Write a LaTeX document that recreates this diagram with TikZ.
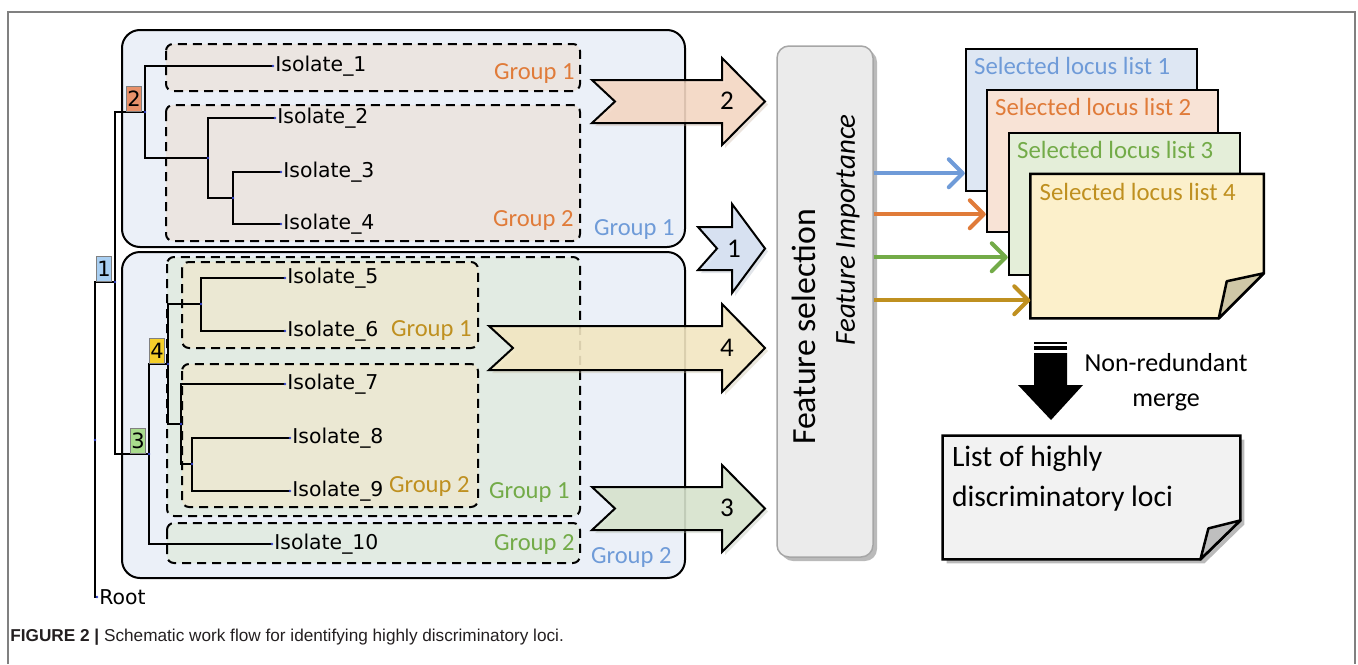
\documentclass[tikz,border=0pt]{standalone}
\usepackage{fontspec}
\setmainfont{Carlito}
\newfontfamily\isofont{DejaVu Sans}
\newfontfamily\capfont{Liberation Sans}
\usetikzlibrary{positioning,arrows.meta,shadows}
\definecolor{boxblue}{HTML}{EBF0F8}
\definecolor{fillO}{HTML}{EBE5E1}
\definecolor{fillG}{HTML}{E2EBE3}
\definecolor{fillY}{HTML}{EBE8D3}
\definecolor{txtO}{HTML}{E07B39}
\definecolor{txtB}{HTML}{6F9BD8}
\definecolor{txtG}{HTML}{73AB48}
\definecolor{txtY}{HTML}{BF9020}
\definecolor{arrO}{HTML}{F6D9C5}
\definecolor{arrB}{HTML}{D6E1F2}
\definecolor{arrY}{HTML}{F5E9C4}
\definecolor{arrG}{HTML}{D9E5CF}
\definecolor{lstB}{HTML}{DEE7F3}
\definecolor{lstO}{HTML}{F8E3D6}
\definecolor{lstG}{HTML}{E4EED9}
\definecolor{lstY}{HTML}{FCF0CB}
\definecolor{flapY}{HTML}{CFC7A6}
\definecolor{numO}{HTML}{E8916A}
\definecolor{numB}{HTML}{A9CFF2}
\definecolor{numG}{HTML}{A9DC8D}
\definecolor{numY}{HTML}{F5CF2A}
\definecolor{fsfill}{HTML}{EBEBEB}
\definecolor{fsgray}{HTML}{A6A6A6}
\definecolor{finfill}{HTML}{F2F2F2}
\definecolor{dotblue}{HTML}{3344CC}
\definecolor{framegray}{HTML}{808080}
\definecolor{capgray}{HTML}{231F20}

\begin{document}
\begin{tikzpicture}[x=0.5pt,y=-0.5pt,
  big box/.style={draw,line width=1pt,fill=boxblue,rounded corners=9pt},
  group box/.style={draw,line width=1pt,dash pattern=on 4.5pt off 3pt,rounded corners=3.5pt},
  group label/.style={anchor=east,inner sep=0pt,font=\fontsize{12.3}{14}\selectfont},
  tree/.style={line width=0.8pt},
  elbow/.style={to path={|- (\tikztotarget) \tikztonodes}},
  leaf node/.style={anchor=west,inner xsep=1pt,inner ysep=0pt,font=\isofont\fontsize{10.2}{12}\selectfont},
  num node/.style={draw=gray,line width=0.4pt,inner sep=0pt,minimum width=7.5pt,minimum height=12.5pt,font=\isofont\fontsize{10.5}{12}\selectfont},
  block arrow/.style={draw,line width=1pt,fill=#1,fill opacity=0.85,drop shadow={fill=#1!80!black,opacity=0.35,shadow xshift=1.5pt,shadow yshift=-1.5pt}},
  block num/.style={inner sep=0pt,font=\fontsize{13.5}{16}\selectfont},
  fs box/.style={draw=fsgray,line width=0.75pt,fill=fsfill,rounded corners=6pt,drop shadow={fill=black!45,opacity=0.6,shadow xshift=2pt,shadow yshift=-2pt}},
  list node/.style={draw,line width=1.25pt,minimum width=115.5pt,minimum height=71pt,inner sep=0pt},
  list text/.style={anchor=north west,inner xsep=4.5pt,inner ysep=4.5pt,font=\fontsize{12.4}{14}\selectfont},
  sel/.style={line width=2pt,-{Straight Barb[length=7pt,width=14pt,round]}}]

  \useasboundingbox (0,0) rectangle (1358,664);
  \draw[framegray,line width=0.75pt] (8,664) -- (8,12) -- (1355,12) -- (1355,664);

  \path[big box] (122,30) rectangle (685,247);
  \path[big box] (122,252) rectangle (685,578);
  \path[group box,fill=fillO] (166,44) rectangle (580,91);
  \path[group box,fill=fillO] (166,105) rectangle (580,241);
  \path[group box,fill=fillG] (167,257) rectangle (580,516);
  \path[group box,fill=fillY] (182,262) rectangle (478,348);
  \path[group box,fill=fillY] (182,364) rectangle (478,507);
  \path[group box,fill=fillG] (167,523) rectangle (580,563);

  \node[group label,txtO] (go1) at (575,73) {Group 1};
  \node[group label,txtO] (go2) at (574,220) {Group 2};
  \node[group label,txtB] (gb1) at (675,229) {Group 1};
  \node[group label,txtY] (gy1) at (472,330) {Group 1};
  \node[group label,txtY] (gy2) at (470,486) {Group 2};
  \node[group label,txtG] (gg1) at (570,492) {Group 1};
  \node[group label,txtG] (gg2) at (575,544) {Group 2};
  \node[group label,txtB] (gb2) at (672,557) {Group 2};

  \coordinate (r) at (95,440);
  \coordinate (n1) at (115,282);
  \coordinate (n2) at (145,112);
  \coordinate (n2b) at (208,158);
  \coordinate (n2c) at (233,198);
  \coordinate (n3) at (149,454);
  \coordinate (n4) at (168,364);
  \coordinate (n4a) at (201,304);
  \coordinate (n4b) at (181,424);
  \coordinate (n4c) at (192,464);

  \node[leaf node] (i1) at (273,66) {Isolate\_1};
  \node[leaf node] (i2) at (275,118) {Isolate\_2};
  \node[leaf node] (i3) at (281,172) {Isolate\_3};
  \node[leaf node] (i4) at (281,224) {Isolate\_4};
  \node[leaf node] (i5) at (285,278) {Isolate\_5};
  \node[leaf node] (i6) at (285,331) {Isolate\_6};
  \node[leaf node] (i7) at (285,384) {Isolate\_7};
  \node[leaf node] (i8) at (290,438) {Isolate\_8};
  \node[leaf node] (i9) at (290,491) {Isolate\_9};
  \node[leaf node] (i10) at (272,544) {Isolate\_10};
  \node[leaf node] (root) at (97,597) {Root};

  \path[tree]
    (r) edge[elbow] (n1)
        edge[elbow] (root)
    (n1) edge[elbow] (n2)
         edge[elbow] (n3)
    (n2) edge[elbow] (i1)
         edge[elbow] (n2b)
    (n2b) edge[elbow] (i2)
          edge[elbow] (n2c)
    (n2c) edge[elbow] (i3)
          edge[elbow] (i4)
    (n3) edge[elbow] (n4)
         edge[elbow] (i10)
    (n4) edge[elbow] (n4a)
         edge[elbow] (n4b)
    (n4a) edge[elbow] (i5)
          edge[elbow] (i6)
    (n4b) edge[elbow] (i7)
          edge[elbow] (n4c)
    (n4c) edge[elbow] (i8)
          edge[elbow] (i9);

  \fill[dotblue] (r) circle (1.3) (n1) circle (1.3) (n2) circle (1.3) (n2b) circle (1.3)
    (n2c) circle (1.3) (n3) circle (1.3) (n4) circle (1.3) (n4a) circle (1.3)
    (n4b) circle (1.3) (n4c) circle (1.3) (i1.west) circle (1.3) (i2.west) circle (1.3)
    (i3.west) circle (1.3) (i4.west) circle (1.3) (i5.west) circle (1.3) (i6.west) circle (1.3)
    (i7.west) circle (1.3) (i8.west) circle (1.3) (i9.west) circle (1.3) (i10.west) circle (1.3)
    (root.west) circle (1.3);

  \node[num node,fill=numO,above left=0pt and 1.5pt of n2] (b2) {2};
  \node[num node,fill=numB,above left=0pt and 1.5pt of n1] (b1) {1};
  \node[num node,fill=numG,above left=0pt and 1.5pt of n3] (b3) {3};
  \node[num node,fill=numY,above left=0pt and 1.5pt of n4] (b4) {4};

  \path[block arrow=arrO] (592,80) -- (722,80) -- (722,58) -- (765,101.5) -- (722,145)
    -- (722,123) -- (592,123) -- (615,101.5) -- cycle;
  \path[block arrow=arrB] (698,227) -- (732,227) -- (732,204) -- (765,248.5) -- (732,293)
    -- (732,270) -- (698,270) -- (717,248.5) -- cycle;
  \path[block arrow=arrY] (489,326) -- (722,326) -- (722,304) -- (765,348) -- (722,392)
    -- (722,370) -- (489,370) -- (513,348) -- cycle;
  \path[block arrow=arrG] (592,487) -- (722,487) -- (722,465) -- (765,508.5) -- (722,552)
    -- (722,530) -- (592,530) -- (615,508.5) -- cycle;
  \node[block num] (a2) at (727,101) {2};
  \node[block num] (a1) at (734,249) {1};
  \node[block num] (a4) at (727,348) {4};
  \node[block num] (a3) at (727,508) {3};

  \node[fs box,minimum width=48pt,minimum height=255.5pt] (fs) at (825,301.5) {};
  \node[rotate=90,font=\fontsize{16.9}{20}\selectfont] (fsl) at (804,327) {Feature selection};
  \node[rotate=90,font=\itshape\fontsize{14.5}{17}\selectfont] (fim) at (848,230) {Feature Importance};

  \node[list node,fill=lstB] (l1) at (1081.5,120) {};
  \node[list text,txtB] (t1) at (l1.north west) {Selected locus list 1};
  \node[list node,fill=lstO] (l2) at (1102.5,161) {};
  \node[list text,txtO] (t2) at (l2.north west) {Selected locus list 2};
  \node[list node,fill=lstG] (l3) at (1124.5,204) {};
  \node[list text,txtG] (t3) at (l3.north west) {Selected locus list 3};
  \node[list node,draw=none] (l4) at (1147,246) {};
  \draw[line width=1.25pt,fill=lstY] (l4.north west) -- (l4.north east) -- ([yshift=22.5pt]l4.south east)
    -- ([xshift=-22.5pt]l4.south east) -- (l4.south west) -- cycle;
  \draw[line width=1.25pt,line join=round,fill=flapY] ([yshift=22.5pt]l4.south east)
    -- ([xshift=-18.5pt,yshift=18.5pt]l4.south east) -- ([xshift=-22.5pt]l4.south east) -- cycle;
  \node[list text,txtY] (t4) at (l4.north west) {Selected locus list 4};

  \coordinate (c1) at ([yshift=9.5pt]l1.south west);
  \coordinate (c2) at ([yshift=9.5pt]l2.south west);
  \coordinate (c3) at ([yshift=9.5pt]l3.south west);
  \coordinate (c4) at ([yshift=9pt]l4.south west);
  \draw[sel,txtB] (fs.east |- c1) -- (c1);
  \draw[sel,txtO] (fs.east |- c2) -- (c2);
  \draw[sel,txtG] (fs.east |- c3) -- (c3);
  \draw[sel,txtY] (fs.east |- c4) -- (c4);

  \fill (1034,342) rectangle (1067,344);
  \fill (1034,346) rectangle (1067,350);
  \fill (1034,353) -- (1067,353) -- (1067,385) -- (1083,385) -- (1051,420) -- (1018,385)
    -- (1034,385) -- cycle;
  \node[align=center,font=\fontsize{13}{17.5}\selectfont] (mrg) at (1166,382) {Non-redundant\\merge};

  \node[minimum width=148.5pt,minimum height=61.5pt,inner sep=0pt] (fin) at (1091.5,497.5) {};
  \draw[line width=1.25pt,fill=finfill,drop shadow={fill=black!45,opacity=0.6,shadow xshift=2pt,shadow yshift=-2pt}]
    (fin.north west) -- (fin.north east) -- ([yshift=19.5pt]fin.south east)
    -- ([xshift=-20pt]fin.south east) -- (fin.south west) -- cycle;
  \draw[line width=1.25pt,line join=round,fill=black!25] ([yshift=19.5pt]fin.south east)
    -- ([xshift=-16pt,yshift=15.5pt]fin.south east) -- ([xshift=-20pt]fin.south east) -- cycle;
  \node[anchor=north west,align=left,inner xsep=4.5pt,inner ysep=5pt,font=\fontsize{14.8}{20}\selectfont] (fint)
    at (fin.north west) {List of highly\\discriminatory loci};

  \node[anchor=west,inner sep=0pt,capgray,font=\capfont\fontsize{8.6}{10}\selectfont] (cap) at (10,637)
    {\textbf{FIGURE 2 |} Schematic work flow for identifying highly discriminatory loci.};
\end{tikzpicture}
\end{document}
